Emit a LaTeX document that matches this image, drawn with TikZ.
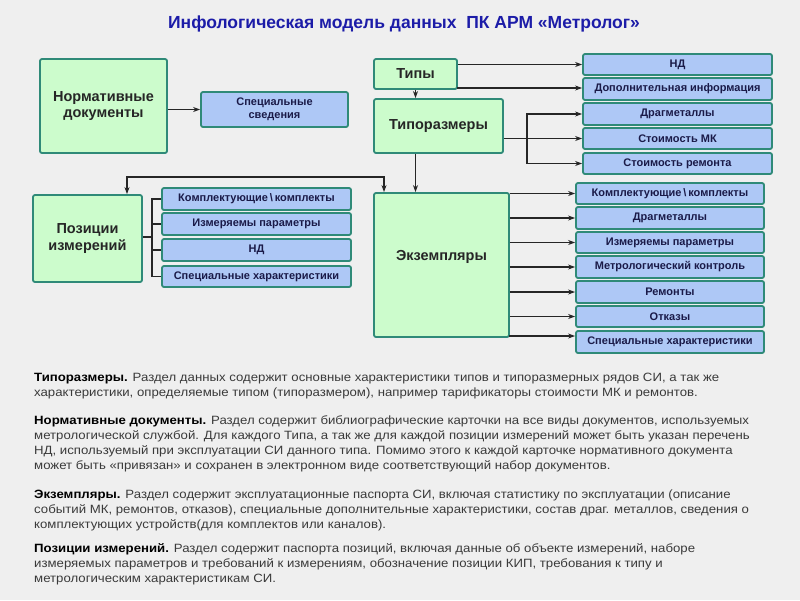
\documentclass[tikz,border=0pt]{standalone}
\usepackage{fontspec}
\setmainfont{Liberation Sans}
\usetikzlibrary{arrows.meta}
\definecolor{bgc}{HTML}{EFEFEF}
\definecolor{edgec}{HTML}{2F8A78}
\definecolor{greenf}{HTML}{CCFCCC}
\definecolor{bluef}{HTML}{AEC8F6}
\definecolor{titlec}{HTML}{1C1CA8}
\definecolor{subtxt}{HTML}{1A1A48}
\definecolor{bodyc}{HTML}{3A3A3A}
\tikzset{
  gbox/.style={draw=edgec, fill=greenf, line width=1.8pt, rounded corners=2pt, inner sep=0pt,
    font=\fontsize{14.5}{16.5}\selectfont\bfseries, text=black!85, align=center},
  bbox/.style={draw=edgec, fill=bluef, line width=1.8pt, rounded corners=2pt, inner sep=0pt,
    font=\fontsize{11}{12.5}\selectfont\bfseries, text=subtxt, align=center},
  conn/.style={draw=black!85, line width=1.2pt},
  arr/.style={conn, -{Stealth[length=7pt,width=5pt]}},
  body/.style={anchor=base west, inner sep=0pt, font=\fontsize{12}{14}\selectfont, text=bodyc},
  ttl/.style={font=\fontsize{17.5}{20}\selectfont\bfseries, text=titlec}
}
\newcommand{\bx}[7]{\node[#1, minimum width=#5-#4, minimum height=#7-#6] (#2) at ({(#4+#5)/2},{(#6+#7)/2}) {#3};}
\newcommand{\wide}[1]{\scalebox{1.1}[1]{#1}}
\newcommand{\bsl}{\,\textbackslash\,}
\begin{document}
\begin{tikzpicture}[x=1pt,y=-1pt]
\fill[bgc] (0,0) rectangle (800,600);
\useasboundingbox (0,0) rectangle (800,600);

\node[ttl] (title) at (404,24) {Инфологическая модель данных\ \ ПК АРМ «Метролог»};

% green boxes
\bx{gbox}{norm}{Нормативные\\документы}{40}{167}{59}{153}
\bx{gbox}{tipy}{Типы}{374}{457}{59}{89}
\bx{gbox}{tipr}{Типоразмеры}{374}{503}{99}{153}
\bx{gbox}{poz}{Позиции\\измерений}{33}{142}{195}{282}
\node[gbox, minimum width=135, minimum height=144, label={[font=\fontsize{14.5}{16.5}\selectfont\bfseries, text=black!85, yshift=8pt]center:Экземпляры}] (ekz) at (441.5,265) {};

% blue boxes
\bx{bbox}{spec}{Специальные\\сведения}{201}{348}{92}{127}
\bx{bbox}{tnd}{НД}{583}{772}{54}{75}
\bx{bbox}{tdop}{Дополнительная информация}{583}{772}{78}{100}
\bx{bbox}{tdrag}{Драгметаллы}{583}{772}{103}{125}
\bx{bbox}{tmk}{Стоимость МК}{583}{772}{128}{149}
\bx{bbox}{trem}{Стоимость ремонта}{583}{772}{153}{174}

\bx{bbox}{pk}{Комплектующие\bsl комплекты}{162}{351}{188}{210}
\bx{bbox}{pi}{Измеряемы параметры}{162}{351}{213}{235}
\bx{bbox}{pnd}{НД}{162}{351}{239}{261}
\bx{bbox}{ps}{Специальные характеристики}{162}{351}{266}{287}

\bx{bbox}{ek}{Комплектующие\bsl комплекты}{576}{764}{183}{204}
\bx{bbox}{ed}{Драгметаллы}{576}{764}{207}{229}
\bx{bbox}{ei}{Измеряемы параметры}{576}{764}{232}{253}
\bx{bbox}{em}{Метрологический контроль}{576}{764}{256}{278}
\bx{bbox}{er}{Ремонты}{576}{764}{281}{303}
\bx{bbox}{eo}{Отказы}{576}{764}{306}{327}
\bx{bbox}{es}{Специальные характеристики}{576}{764}{331}{353}

% connectors
\draw[arr] (norm.east |- spec.west) -- (spec.west);
\draw[arr] (tipy.east |- tnd.west) -- (tnd.west);
\coordinate (td) at (457,88);
\draw[arr] (td) -- (tdop.west |- td);
\draw[arr] (tipy.south) -- (tipy.south |- tipr.north);
\draw[arr] (tipr.east |- tmk.west) -- (tmk.west);
\coordinate (br) at (527,114);
\draw[arr] (br |- trem.west) -- (br |- tdrag.west) -- (tdrag.west);
\draw[arr] (br |- trem.west) -- (trem.west);
\draw[arr] (tipr.south -| tipy.south) -- (tipy.south |- ekz.north);

\coordinate (jl) at (127,177);
\coordinate (jr) at (384,177);
\draw[conn, {Stealth[length=7pt,width=5pt]}-{Stealth[length=7pt,width=5pt]}] (jl |- poz.north) -- (jl) -- (jr) -- (jr |- ekz.north);

\coordinate (pb) at (152,237);
\draw[conn] (poz.east |- pb) -- (pb);
\draw[conn] (pk.west) -- (pb |- pk.west) -- (pb |- ps.west) -- (ps.west);
\draw[conn] (pb |- pi.west) -- (pi.west);
\draw[conn] (pb |- pnd.west) -- (pnd.west);

\foreach \b in {ek,ed,ei,em,er,eo}{\draw[arr] (ekz.east |- \b.west) -- (\b.west);}
\coordinate (eb) at (509,336);
\draw[arr] (eb) -- (es.west |- eb);

% text
\node[body] (p1a) at (34,381) {\wide{\textbf{\color{black}Типоразмеры.} Раздел данных содержит основные характеристики типов и типоразмерных рядов СИ, а так же}};
\node[body] (p1b) at (34,396) {\wide{характеристики, определяемые типом (типоразмером), например тарификаторы стоимости МК и ремонтов.}};
\node[body] (p2a) at (34,424) {\wide{\textbf{\color{black}Нормативные документы.} Раздел содержит библиографические карточки на все виды документов, используемых}};
\node[body] (p2b) at (34,439) {\wide{метрологической службой. Для каждого Типа, а так же для каждой позиции измерений может быть указан перечень}};
\node[body] (p2c) at (34,454) {\wide{НД, используемый при эксплуатации СИ данного типа. Помимо этого к каждой карточке нормативного документа}};
\node[body] (p2d) at (34,469) {\wide{может быть «привязан» и сохранен в электронном виде соответствующий набор документов.}};
\node[body] (p3a) at (34,498) {\wide{\textbf{\color{black}Экземпляры.} Раздел содержит эксплуатационные паспорта СИ, включая статистику по эксплуатации (описание}};
\node[body] (p3b) at (34,513) {\wide{событий МК, ремонтов, отказов), специальные дополнительные характеристики, состав драг. металлов, сведения о}};
\node[body] (p3c) at (34,528) {\wide{комплектующих устройств(для комплектов или каналов).}};
\node[body] (p4a) at (34,552) {\wide{\textbf{\color{black}Позиции измерений.} Раздел содержит паспорта позиций, включая данные об объекте измерений, наборе}};
\node[body] (p4b) at (34,567) {\wide{измеряемых параметров и требований к измерениям, обозначение позиции КИП, требования к типу и}};
\node[body] (p4c) at (34,582) {\wide{метрологическим характеристикам СИ.}};
\end{tikzpicture}
\end{document}
